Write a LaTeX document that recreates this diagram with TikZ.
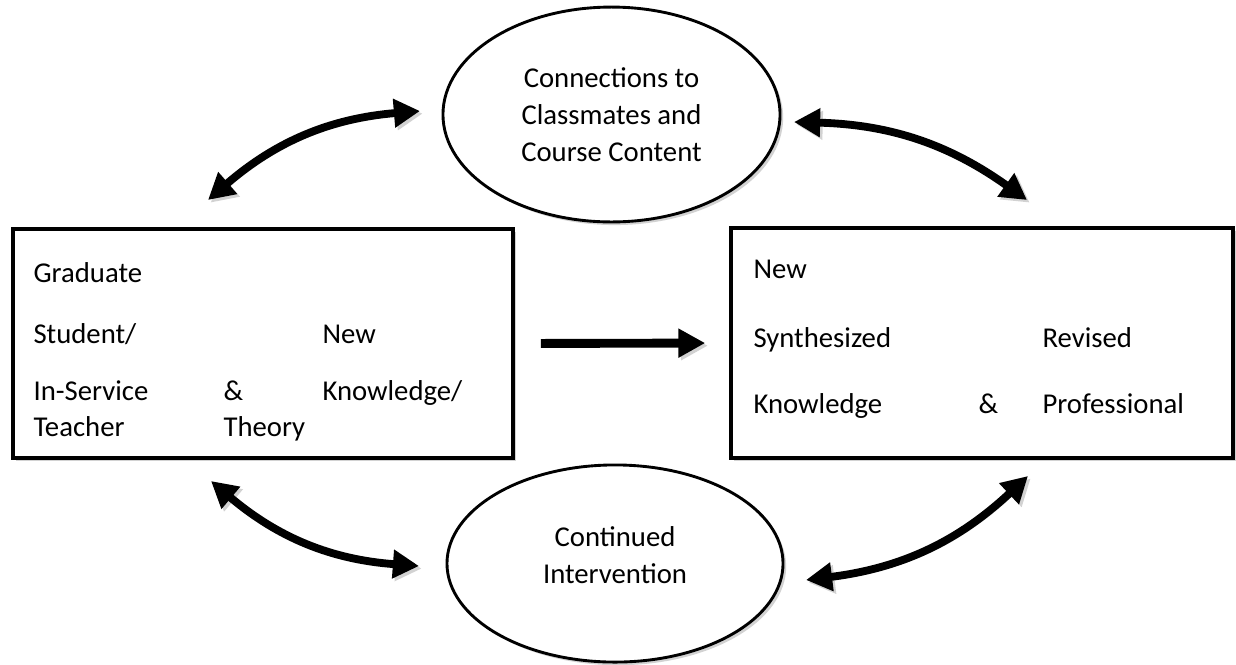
\documentclass[tikz,border=0pt]{standalone}
\usepackage{fontspec}
\setmainfont{Carlito}
\usetikzlibrary{shapes.geometric, arrows.meta, shadows}

\tikzset{
  box/.style={draw, line width=1.3pt, fill=white, drop shadow={shadow xshift=1.2pt, shadow yshift=-1.2pt, fill=gray!35, opacity=1}},
  oval/.style={ellipse, draw, line width=1.1pt, fill=white, inner sep=0pt, drop shadow={shadow xshift=1.2pt, shadow yshift=-1.2pt, fill=gray!35, opacity=1}},
  word/.style={anchor=base west, inner sep=0pt},
  link/.style={line width=3pt, {Triangle[length=10pt,width=10.5pt]}-{Triangle[length=10pt,width=10.5pt]},
    preaction={draw=gray!35, transform canvas={shift={(1pt,-1pt)}}}}
}

\begin{document}
\begin{tikzpicture}[x=0.383pt, y=0.383pt, font=\fontsize{11}{14.2}\selectfont]
\useasboundingbox (0,0) rectangle (1236,-664);

% boxes
\node[box, minimum width=191.5pt, minimum height=87.7pt] (grad) at (263,-343.5) {};
\node[box, minimum width=192.3pt, minimum height=88.1pt] (synth) at (982,-343) {};

% left box words
\node[word] (graduate) at (33,-282) {Graduate};
\node[word] (student) at (33,-343) {Student/};
\node[word] (inservice) at (33,-400) {In-Service};
\node[word] (teacher) at (33,-436) {Teacher};
\node[word] (amp1) at (223,-400) {\&};
\node[word] (theory) at (223,-436) {Theory};
\node[word] (new1) at (322,-343) {New};
\node[word] (knowl1) at (322,-400) {Knowledge/};

% right box words
\node[word] (new2) at (753,-278) {New};
\node[word] (synthesized) at (753,-347) {Synthesized};
\node[word] (knowl2) at (753,-413) {Knowledge};
\node[word] (amp2) at (978,-413) {\&};
\node[word] (revised) at (1042,-347) {Revised};
\node[word] (professional) at (1042,-413) {Professional};

% ovals
\node[oval, minimum width=129.1pt, minimum height=82.3pt, align=center] (conn) at (611.5,-114.5)
  {Connections to\\Classmates and\\Course Content};
\node[oval, minimum width=128.7pt, minimum height=75.5pt] (cont) at (615,-563.5) {};
\node[align=center, inner sep=0pt] (conttext) at (615,-555) {Continued\\Intervention};

% arrow ends
\coordinate (tla) at (208,-200);
\coordinate (tlb) at (420,-111);
\coordinate (tra) at (794,-122);
\coordinate (trb) at (1027,-200);
\coordinate (bla) at (211,-481);
\coordinate (blb) at (419,-566);
\coordinate (bra) at (806,-580);
\coordinate (brb) at (1028,-476);

\draw[link] (tla) to[bend left=18] (tlb);
\draw[link] (tra) to[bend left=17] (trb);
\draw[link] (bla) to[bend right=18] (blb);
\draw[link] (bra) to[bend right=18] (brb);

\draw[line width=3.4pt, -{Triangle[length=10.3pt,width=10.5pt]}, shorten <=10pt, shorten >=9.2pt,
  preaction={draw=gray!35, transform canvas={shift={(1pt,-1pt)}}}] (grad.east) -- (synth.west);
\end{tikzpicture}
\end{document}
